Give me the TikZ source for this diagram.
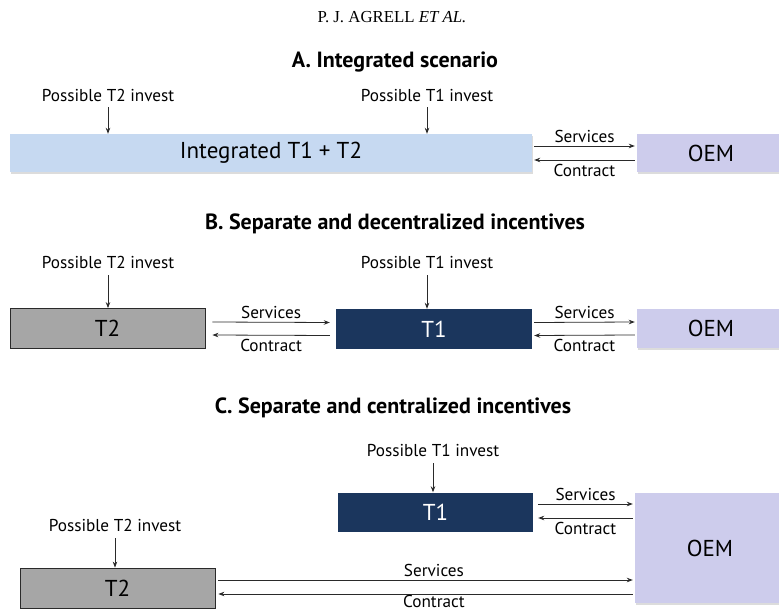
\documentclass[tikz,border=0pt]{standalone}
\usepackage{fontspec}
\setmainfont{PT Sans}
\newfontfamily\headfont{Liberation Serif}
\usetikzlibrary{arrows.meta,shadows}

\definecolor{intblue}{HTML}{C6D9F1}
\definecolor{oemlav}{HTML}{CDCCEC}
\definecolor{tnavy}{HTML}{1B365D}
\definecolor{tgrey}{HTML}{A6A6A6}
\definecolor{inkline}{HTML}{2A2A2A}

\tikzset{
  soft/.style={drop shadow={opacity=0.28, shadow xshift=1.2pt, shadow yshift=-1.8pt}},
  firm/.style={inner sep=0pt, font=\fontsize{23}{26}\selectfont},
  intbox/.style={firm, fill=intblue, soft},
  oembox/.style={firm, fill=oemlav, soft},
  navybox/.style={firm, fill=tnavy, text=white},
  greybox/.style={firm, fill=tgrey, draw=inkline, line width=0.8pt},
  lbl/.style={font=\fontsize{17.2}{20}\selectfont, inner sep=1pt},
  uplbl/.style={lbl, above=2pt},
  downlbl/.style={lbl, below=2.5pt},
  sectitle/.style={font=\bfseries\fontsize{22}{25}\selectfont},
  arr/.style={draw=inkline, line width=0.8pt, -{Stealth[length=6pt,width=4.5pt]}},
}

\begin{document}
\begin{tikzpicture}[x=1pt,y=-1pt]
\useasboundingbox (0,0) rectangle (779,612);

% running head
\node[font=\headfont\fontsize{16.8}{19}\selectfont] (head) at (392,17) {P. J. AGRELL \textit{ET AL.}};

% ---------------- A: integrated ----------------
\node[sectitle] (titA) at (395,62) {A. Integrated scenario};
\node[intbox, minimum width=522pt, minimum height=38pt] (intg) at (271,153) {Integrated T1 + T2};
\node[oembox, minimum width=148pt, minimum height=38pt] (oemA) at (711,153) {OEM};
\node[lbl] (pA2) at (108,95) {Possible T2 invest};
\node[lbl] (pA1) at (427,95) {Possible T1 invest};
\draw[arr] ([yshift=-5pt]pA2.south) -- (pA2 |- intg.north);
\draw[arr] ([yshift=-5pt]pA1.south) -- (pA1 |- intg.north);
\draw[arr] ([xshift=2pt,yshift=7pt]intg.east) -- node[uplbl] (sA) {Services} ([xshift=-2pt,yshift=7pt]oemA.west);
\draw[arr] ([xshift=-2pt,yshift=-7pt]oemA.west) -- node[downlbl] (cA) {Contract} ([xshift=2pt,yshift=-7pt]intg.east);

% ---------------- B: decentralized ----------------
\node[sectitle] (titB) at (395,224) {B. Separate and decentralized incentives};
\node[greybox, minimum width=195pt, minimum height=40pt] (t2B) at (107.5,328.5) {T2};
\node[navybox, minimum width=196pt, minimum height=40pt] (t1B) at (434,329) {T1};
\node[oembox, minimum width=148pt, minimum height=39pt] (oemB) at (711,328.5) {OEM};
\node[lbl] (pB2) at (108,262) {Possible T2 invest};
\node[lbl] (pB1) at (427,262) {Possible T1 invest};
\draw[arr] ([yshift=-6pt]pB2.south) -- (pB2 |- t2B.north);
\draw[arr] ([yshift=-6pt]pB1.south) -- (pB1 |- t1B.north);
\draw[arr] ([xshift=7pt,yshift=6.5pt]t2B.east) -- node[uplbl] (sB1) {Services} ([xshift=-6pt,yshift=6.5pt]t1B.west);
\draw[arr] ([xshift=-6pt,yshift=-6.5pt]t1B.west) -- node[downlbl] (cB1) {Contract} ([xshift=7pt,yshift=-6.5pt]t2B.east);
\draw[arr] ([xshift=2pt,yshift=6.5pt]t1B.east) -- node[uplbl] (sB2) {Services} ([xshift=-2pt,yshift=6.5pt]oemB.west);
\draw[arr] ([xshift=-2pt,yshift=-6.5pt]oemB.west) -- node[downlbl] (cB2) {Contract} ([xshift=2pt,yshift=-6.5pt]t1B.east);

% ---------------- C: centralized ----------------
\node[sectitle] (titC) at (393,408) {C. Separate and centralized incentives};
\node[navybox, minimum width=195pt, minimum height=39pt] (t1C) at (435.5,512) {T1};
\node[oembox, minimum width=150pt, minimum height=110pt] (oemC) at (710,548) {OEM};
\node[greybox, minimum width=195pt, minimum height=40pt] (t2C) at (117.5,588) {T2};
\node[lbl] (pC1) at (433,450) {Possible T1 invest};
\node[lbl] (pC2) at (115,525) {Possible T2 invest};
\draw[arr] ([yshift=-6pt]pC1.south) -- (pC1 |- t1C.north);
\draw[arr] ([yshift=-6pt]pC2.south) -- (pC2 |- t2C.north);
\draw[arr] ([xshift=5pt,yshift=8pt]t1C.east) -- node[uplbl] (sC1) {Services} ([xshift=-2pt,yshift=8pt]t1C.east -| oemC.west);
\draw[arr] ([xshift=-2pt,yshift=-6pt]t1C.east -| oemC.west) -- node[downlbl] (cC1) {Contract} ([xshift=5pt,yshift=-6pt]t1C.east);
\draw[arr] ([xshift=3pt,yshift=8pt]t2C.east) -- node[uplbl,pos=0.52] (sC2) {Services} ([xshift=-2pt,yshift=8pt]t2C.east -| oemC.west);
\draw[arr] ([xshift=-2pt,yshift=-6pt]t2C.east -| oemC.west) -- node[lbl,inner sep=0pt,below=0.5pt,pos=0.48] (cC2) {Contract} ([xshift=3pt,yshift=-6pt]t2C.east);
\end{tikzpicture}
\end{document}
